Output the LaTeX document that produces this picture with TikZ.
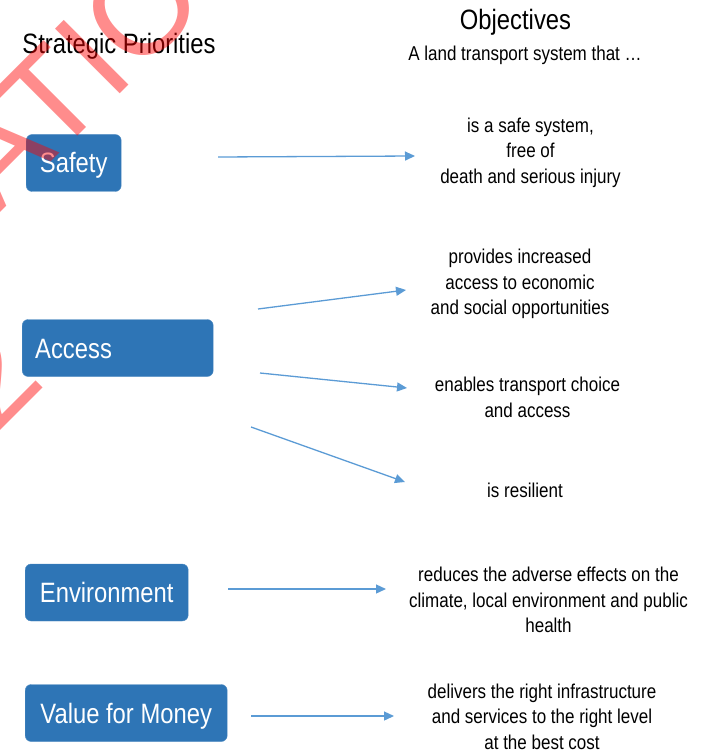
\documentclass[tikz,border=0pt]{standalone}
\usepackage{fontspec}
\setmainfont{Liberation Sans}[FakeStretch=0.85]
\newfontfamily\stampfont{Liberation Sans}
\usetikzlibrary{arrows.meta}
\definecolor{boxblue}{RGB}{46,117,182}
\definecolor{linkblue}{RGB}{91,155,213}
\tikzset{
  prio/.style={fill=boxblue, draw=boxblue!85!white, rounded corners=6pt, text=white, font=\fontsize{28}{30}\selectfont,
    minimum height=57pt, inner sep=0pt, text height=20pt, text depth=0pt, anchor=west},
  obj/.style={align=center, font=\fontsize{20}{25.5}\selectfont, inner sep=0pt},
  link/.style={linkblue, line width=1.3pt, -{Triangle[length=10pt,width=9pt]}},
  stamp/.style={red, opacity=0.45, rotate=45, anchor=base, inner sep=0pt, font=\stampfont\fontsize{133}{154}\selectfont}
}
\begin{document}
\begin{tikzpicture}[x=1pt,y=-1pt]
    \useasboundingbox (0,0) rectangle (702,751);

    \node[font=\fontsize{28}{30}\selectfont, anchor=base, inner sep=0pt] (prihead) at (119,53.3) {Strategic Priorities};
    \node[font=\fontsize{28}{30}\selectfont, anchor=base, inner sep=0pt] (objhead) at (515.5,29.3) {Objectives};
    \node[obj, anchor=base] (objsub) at (525,60.7) {A land transport system that …};

    \node[prio, minimum width=95pt] (safety) at (26,163) {Safety};
    \node[prio, minimum width=191pt, inner xsep=13pt, text width=165pt, align=left] (access) at (22,348) {Access};
    \node[prio, minimum width=163pt] (environment) at (25,592.5) {Environment};
    \node[prio, minimum width=202pt] (money) at (25,713) {Value for Money};

    \node[obj] (safe) at (530.5,152.5) {is a safe system,\\free of\\death and serious injury};
    \node[obj] (opportunity) at (520,284) {provides increased\\access to economic\\and social opportunities};
    \node[obj] (choice) at (527.5,397.5) {enables transport choice\\and access};
    \node[obj] (resilient) at (525,490.5) {is resilient};
    \node[obj] (health) at (548.5,600) {reduces the adverse effects on the\\climate, local environment and public\\health};
    \node[obj] (cost) at (542,716.5) {delivers the right infrastructure\\and services to the right level\\at the best cost};

    \coordinate (safetyout) at (218,157);
    \coordinate (safein) at (415,156);
    \coordinate (accessout1) at (258,309);
    \coordinate (opportunityin) at (406,290);
    \coordinate (accessout2) at (260,373);
    \coordinate (choicein) at (407,388);
    \coordinate (accessout3) at (251,427);
    \coordinate (resilientin) at (405,482);
    \coordinate (environmentout) at (228,589);
    \coordinate (healthin) at (386,589);
    \coordinate (moneyout) at (251,716);
    \coordinate (costin) at (394,716);

    \draw[link] (safetyout) -- (safein);
    \draw[link] (accessout1) -- (opportunityin); % Access fans out to three.
    \draw[link] (accessout2) -- (choicein);
    \draw[link] (accessout3) -- (resilientin);
    \draw[link] (environmentout) -- (healthin);
    \draw[link] (moneyout) -- (costin);

    \begin{scope} % Release stamp over the page.
        \clip (0,0) rectangle (702,751);
        \node[stamp] (stampa) at (-381.1,376.9) {RELEASED UNDER THE};
        \node[stamp] (stampb) at (-272.2,485.8) {OFFICIAL INFORMATION};
        \node[stamp] (stampc) at (-163.3,594.7) {ACT 1982};
    \end{scope}
\end{tikzpicture}
\end{document}
